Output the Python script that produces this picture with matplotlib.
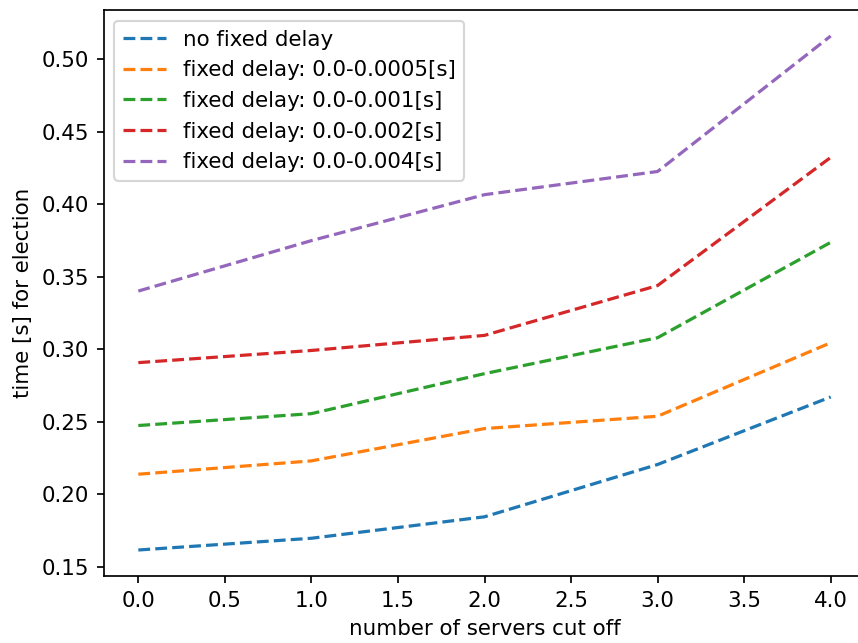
import numpy as np
import matplotlib
matplotlib.use("Agg")
import matplotlib.pyplot as plt

servers_cut = [0, 1, 2, 3, 4]
no_delay = [0.1615, 0.1696, 0.1844, 0.2205, 0.2671]
delay_0005 = [0.2138, 0.2230, 0.2453, 0.2538, 0.3045]
delay_001 = [0.2474, 0.2556, 0.2832, 0.3080, 0.3738]
delay_002 = [0.2908, 0.2992, 0.3096, 0.3440, 0.4324]
delay_004 = [0.3402, 0.3750, 0.4067, 0.4227, 0.5162]

labels = ['no fixed delay',
          'fixed delay: 0.0-0.0005[s]',
          'fixed delay: 0.0-0.001[s]',
          'fixed delay: 0.0-0.002[s]',
          'fixed delay: 0.0-0.004[s]']

dpi = 153.7
fig = plt.figure(figsize=(858 / dpi, 643 / dpi), dpi=dpi)
# original image is cropped a little on the right, axes run past the edge
ax = fig.add_axes([103.7 / 858, 67.3 / 643, 761.6 / 858, 565.4 / 643])

for series, lab in zip([no_delay, delay_0005, delay_001, delay_002, delay_004], labels):
    ax.plot(servers_cut, series, '--', label=lab)

ax.set_xlabel('number of servers cut off')
ax.set_ylabel('time [s] for election')
ax.legend(loc='upper left')

fig.savefig('out.png', dpi=dpi)
